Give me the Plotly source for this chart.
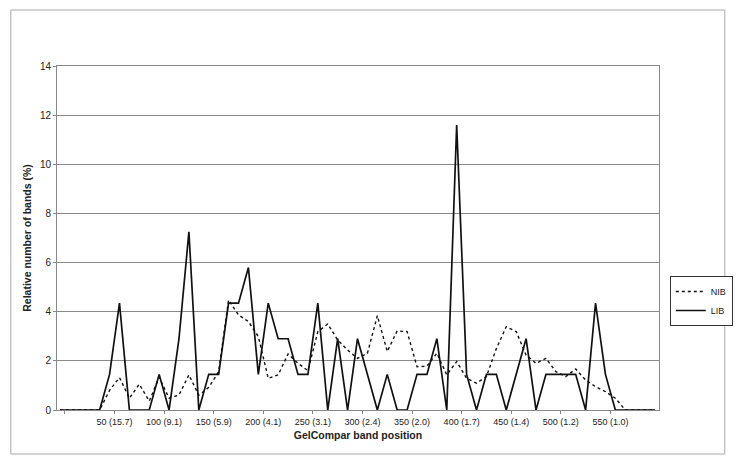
import plotly.graph_objects as go

# band position (bin centres) and relative number of bands (%)
positions = [-5 + 10 * i for i in range(61)]

lib = [0, 0, 0, 0, 0, 1.45, 4.35, 0, 0, 0,
       1.45, 0, 2.9, 7.25, 0, 1.45, 1.45, 4.35, 4.35, 5.8,
       1.45, 4.35, 2.9, 2.9, 1.45, 1.45, 4.35, 0, 2.9, 0,
       2.9, 1.45, 0, 1.45, 0, 0, 1.45, 1.45, 2.9, 0,
       11.6, 1.45, 0, 1.45, 1.45, 0, 1.45, 2.9, 0, 1.45,
       1.45, 1.45, 1.45, 0, 4.35, 1.45, 0, 0, 0, 0, 0]

nib = [0, 0, 0, 0, 0, 0.8, 1.32, 0.48, 1.05, 0.36,
       1.33, 0.48, 0.61, 1.43, 0.6, 0.92, 1.56, 4.48, 3.87, 3.6,
       2.99, 1.29, 1.43, 2.28, 1.9, 1.6, 3.19, 3.5, 2.85, 2.44,
       2.1, 2.31, 3.84, 2.38, 3.22, 3.19, 1.76, 1.78, 2.31, 1.43,
       1.97, 1.29, 1.09, 1.36, 2.5, 3.39, 3.19, 2.24, 1.9, 2.1,
       1.56, 1.36, 1.67, 1.22, 0.95, 0.75, 0.48, 0, 0, 0, 0]

tick_vals = [0, 50, 100, 150, 200, 250, 300, 350, 400, 450, 500, 550]
tick_text = ["", "50 (15.7)", "100 (9.1)", "150 (5.9)", "200 (4.1)", "250 (3.1)",
             "300 (2.4)", "350 (2.0)", "400 (1.7)", "450 (1.4)", "500 (1.2)", "550 (1.0)"]
y_ticks = [0, 2, 4, 6, 8, 10, 12, 14]

narrow = "Liberation Sans Narrow, Arial Narrow, Liberation Sans, Arial, sans-serif"
normal = "Liberation Sans, Arial, sans-serif"

fig = go.Figure()
fig.add_trace(go.Scatter(x=positions, y=nib, name="NIB", mode="lines",
                         line=dict(color="#111", width=1.4, dash="dot")))
fig.add_trace(go.Scatter(x=positions, y=lib, name="LIB", mode="lines",
                         line=dict(color="#111", width=1.7)))

OFF = 8  # default page body margin
W, H = 745 - OFF, 462 - OFF
# plot area in page pixels
L, R, T, B = 57, 670, 66, 410
pw, ph = R - L, B - T

def px(x):
    return (x - L) / pw

def py(y):
    return (B - y) / ph

fig.update_layout(
    width=W, height=H,
    margin=dict(l=L - OFF, r=W - (R - OFF), t=T - OFF, b=H - (B - OFF)),
    paper_bgcolor="white", plot_bgcolor="white",
    font=dict(family=normal, color="#222", size=10),
    showlegend=True,
    legend=dict(x=px(681), y=py(276), xanchor="left", yanchor="top",
                bordercolor="#333", borderwidth=1, bgcolor="white",
                font=dict(family=normal, size=9, color="#222"),
                itemwidth=30, tracegroupgap=0),
    xaxis=dict(range=[-8, 599], tickmode="array", tickvals=tick_vals, ticktext=tick_text,
               tickfont=dict(family=narrow, size=9, color="#222"),
               ticks="outside", ticklen=3, tickcolor="#888",
               showgrid=False, zeroline=False,
               showline=True, linecolor="#888", linewidth=1, mirror=True,
               title=dict(text="<b>GelCompar band position</b>",
                          font=dict(family=narrow, size=10.5, color="#222"), standoff=5)),
    yaxis=dict(range=[0, 14], tickmode="array", tickvals=y_ticks,
               tickfont=dict(family=narrow, size=10, color="#222"),
               ticks="outside", ticklen=3, tickcolor="#888",
               showgrid=True, gridcolor="#8a8a8a", gridwidth=1, zeroline=False,
               showline=True, linecolor="#888", linewidth=1, mirror=True,
               title=dict(text="<b>Relative number of bands (%)</b>",
                          font=dict(family=normal, size=10.5, color="#222"), standoff=6)),
    shapes=[dict(type="rect", xref="paper", yref="paper",
                 x0=px(10), x1=px(737), y0=py(454), y1=py(10),
                 line=dict(color="#aaa", width=1), layer="below")],
)

fig.write_html("out.html")
